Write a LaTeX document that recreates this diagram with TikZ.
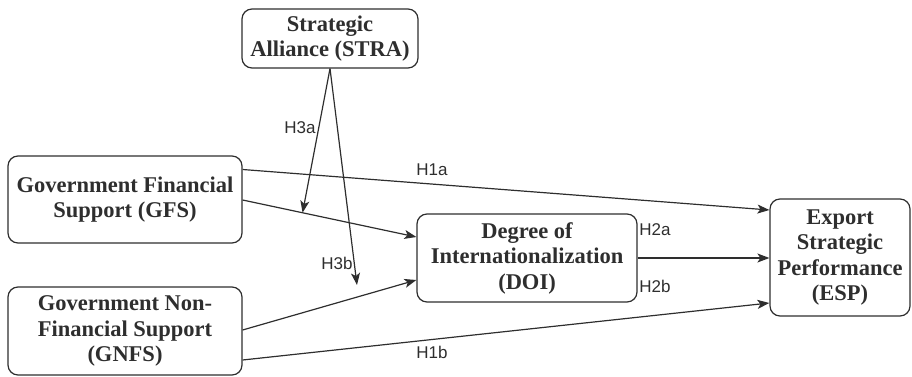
\documentclass[tikz,border=0pt]{standalone}
\usepackage{fontspec}
\setmainfont{Liberation Serif}
\newfontfamily\labelfont{Liberation Sans}
\usetikzlibrary{arrows.meta,calc}
\definecolor{ink}{HTML}{2E2E2E}
\tikzset{
  box/.style={draw=ink, line width=1.2pt, rounded corners=10pt, align=center,
    font=\fontsize{22.5}{25.5}\selectfont\bfseries, text=ink, inner sep=0pt},
  conn/.style={draw=ink, line width=1.2pt, -{Stealth[length=12pt,width=9pt,inset=3pt]}},
  hlabel/.style={font=\labelfont\fontsize{17}{19}\selectfont, text=ink, inner sep=0pt}
}
\begin{document}
\begin{tikzpicture}[x=1pt,y=-1pt]
\useasboundingbox (0,0) rectangle (912,377);
\node[box, minimum width=176pt, minimum height=59pt] (stra) at (330,38.5) {Strategic\\Alliance (STRA)};
\node[box, minimum width=234pt, minimum height=87pt] (gfs) at (125,199.5) {Government Financial\\Support (GFS)};
\node[box, minimum width=234pt, minimum height=88pt] (gnfs) at (125,331) {Government Non-\\Financial Support\\(GNFS)};
\node[box, minimum width=220pt, minimum height=88pt] (doi) at (527,258) {Degree of\\Internationalization\\(DOI)};
\node[box, minimum width=140pt, minimum height=117pt] (esp) at (840,257.5) {Export\\Strategic\\Performance\\(ESP)};
% connectors
\coordinate (gfsA) at ([yshift=30pt]gfs.east);
\coordinate (gfsB) at ([yshift=-0.5pt]gfs.east);
\coordinate (gnfsA) at ([yshift=1pt]gnfs.east);
\coordinate (gnfsB) at ([yshift=-29pt]gnfs.east);
\coordinate (doiA) at ([yshift=21pt]doi.west);
\coordinate (doiB) at ([yshift=-22pt]doi.west);
\coordinate (espA) at ([yshift=47.5pt]esp.west);
\coordinate (espB) at ([yshift=-45.5pt]esp.west);
\coordinate (mod) at ($(gfsB)!0.345!(doiA)$);
\coordinate (h3bend) at (357,285);
\draw[conn] (gfsA) -- (espA);
\draw[conn] (gfsB) -- (doiA);
\draw[conn] (gnfsA) -- (doiB);
\draw[conn] (gnfsB) -- (espB);
\draw[conn] (doi.east) -- (doi.east -| esp.west);
\draw[conn] (stra.south) -- (mod);
\draw[conn] (stra.south) -- (h3bend);
% labels
\node[hlabel] (l3a) at (300,128) {H3a};
\node[hlabel] (l3b) at (337,263) {H3b};
\node[hlabel] (l1a) at (432,170) {H1a};
\node[hlabel] (l1b) at (432,352) {H1b};
\node[hlabel] (l2a) at (655,230) {H2a};
\node[hlabel] (l2b) at (655,286) {H2b};
\end{tikzpicture}
\end{document}
